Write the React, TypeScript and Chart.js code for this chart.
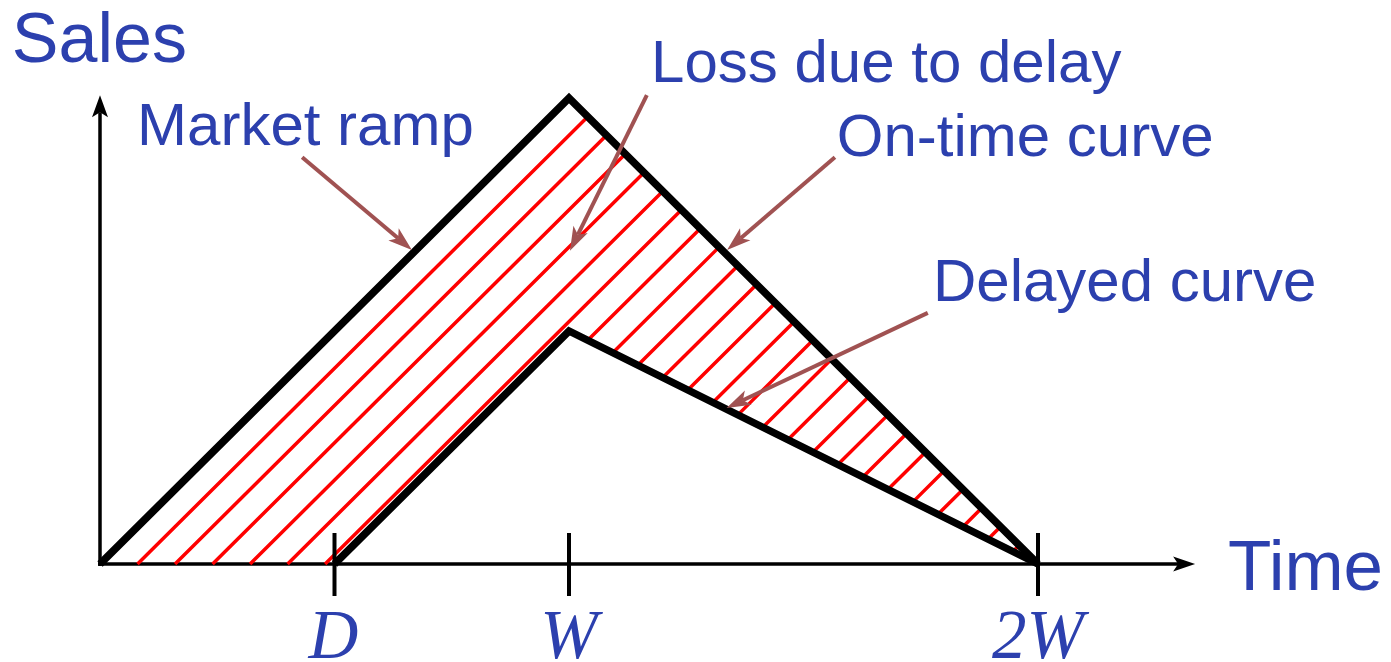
import { useEffect, useRef } from "react";
import { Chart, registerables } from "chart.js";

Chart.register(...registerables);

// ---- Data (time in units of W, sales normalised to the on-time peak) ----
const onTimeX = [0, 1, 2];
const onTimeY = [0, 1, 0];
const delayedX = [0.5, 1, 2];
const delayedY = [0, 0.5, 0];
const tickValues = [0.5, 1, 2];
const tickLabels = ["D", "W", "2W"];
// x-axis intercepts of the red hatch lines (parallel to the market ramp)
const hatchIntercepts = [
  0.08, 0.16, 0.24, 0.32, 0.4, 0.48, 0.56, 0.64, 0.72, 0.8, 0.88, 0.96,
  1.04, 1.12, 1.2, 1.28, 1.36, 1.44, 1.52, 1.6, 1.68, 1.76, 1.84, 1.92,
];
const axisEndX = 2.335;
const axisEndY = 1.006;

const TEXT_BLUE = "#2c40ae";
const ARROW_BROWN = "#a05252";

// annotation labels (data-unit anchor = left end of the baseline)
const labels = [
  { text: "Sales", x: -0.188, y: 1.077, size: 70 },
  { text: "Time", x: 2.405, y: -0.056, size: 71 },
  { text: "Market ramp", x: 0.079, y: 0.899, size: 60 },
  { text: "Loss due to delay", x: 1.175, y: 1.034, size: 60 },
  { text: "On-time curve", x: 1.571, y: 0.876, size: 60 },
  { text: "Delayed curve", x: 1.776, y: 0.564, size: 60 },
];
// pointer arrows: tail -> tip (data units)
const pointers = [
  { x1: 0.431, y1: 0.873, x2: 0.665, y2: 0.674 },
  { x1: 1.166, y1: 1.006, x2: 1.002, y2: 0.672 },
  { x1: 1.567, y1: 0.873, x2: 1.337, y2: 0.674 },
  { x1: 1.765, y1: 0.539, x2: 1.336, y2: 0.335 },
];

function toPoints(xs: number[], ys: number[]) {
  return xs.map((x, i) => ({ x, y: ys[i] }));
}

function intersectLine(c: number, xs: number[], ys: number[]) {
  for (let i = 0; i < xs.length - 1; i++) {
    const x1 = xs[i], y1 = ys[i];
    const dx = xs[i + 1] - x1, dy = ys[i + 1] - y1;
    const den = dy - dx;
    if (Math.abs(den) < 1e-9) continue;
    const t = (x1 - c - y1) / den;
    if (t >= -1e-9 && t <= 1 + 1e-9) return { x: x1 + t * dx, y: y1 + t * dy };
  }
  return null;
}

function hatchPoints() {
  const lowerX = [0, ...delayedX];
  const lowerY = [0, ...delayedY];
  const pts: { x: number; y: number | null }[] = [];
  hatchIntercepts.forEach((c) => {
    const a = intersectLine(c, lowerX, lowerY);
    const b = intersectLine(c, onTimeX, onTimeY);
    if (a && b) {
      pts.push(a, b, { x: b.x, y: null });
    }
  });
  return pts;
}

function arrowHead(
  ctx: CanvasRenderingContext2D,
  x1: number, y1: number, x2: number, y2: number,
  len: number, half: number, notch: number, color: string, width: number
) {
  const d = Math.hypot(x2 - x1, y2 - y1);
  const ux = (x2 - x1) / d, uy = (y2 - y1) / d;
  const px = -uy, py = ux;
  ctx.save();
  ctx.strokeStyle = color;
  ctx.fillStyle = color;
  ctx.lineWidth = width;
  ctx.lineCap = "butt";
  ctx.beginPath();
  ctx.moveTo(x1, y1);
  ctx.lineTo(x2 - ux * (len - notch), y2 - uy * (len - notch));
  ctx.stroke();
  ctx.beginPath();
  ctx.moveTo(x2, y2);
  ctx.lineTo(x2 - ux * len + px * half, y2 - uy * len + py * half);
  ctx.lineTo(x2 - ux * (len - notch), y2 - uy * (len - notch));
  ctx.lineTo(x2 - ux * len - px * half, y2 - uy * len - py * half);
  ctx.closePath();
  ctx.fill();
  ctx.restore();
}

const diagramPlugin = {
  id: "diagram",
  beforeDatasetsDraw(chart: any) {
    const ctx: CanvasRenderingContext2D = chart.ctx;
    const sx = chart.scales.x, sy = chart.scales.y;
    const ox = sx.getPixelForValue(0), oy = sy.getPixelForValue(0);
    // axes
    arrowHead(ctx, ox - 2, oy, sx.getPixelForValue(axisEndX), oy, 22, 7.5, 5, "#000", 3.5);
    arrowHead(ctx, ox, oy + 2, ox, sy.getPixelForValue(axisEndY), 22, 8, 5, "#000", 3.5);
  },
  afterDatasetsDraw(chart: any) {
    const ctx: CanvasRenderingContext2D = chart.ctx;
    const sx = chart.scales.x, sy = chart.scales.y;
    const oy = sy.getPixelForValue(0);
    ctx.save();
    // ticks and tick labels
    ctx.strokeStyle = "#000";
    ctx.lineWidth = 4;
    ctx.fillStyle = TEXT_BLUE;
    ctx.font = "italic 69px 'Liberation Serif', 'Times New Roman', serif";
    ctx.textAlign = "center";
    ctx.textBaseline = "alphabetic";
    tickValues.forEach((v, i) => {
      const px = sx.getPixelForValue(v);
      ctx.beginPath();
      ctx.moveTo(px, oy - 31);
      ctx.lineTo(px, oy + 32);
      ctx.stroke();
      ctx.fillText(tickLabels[i], px - (i === 0 ? 1 : 0), oy + 94);
    });
    // pointer arrows
    pointers.forEach((p) => {
      arrowHead(
        ctx,
        sx.getPixelForValue(p.x1), sy.getPixelForValue(p.y1),
        sx.getPixelForValue(p.x2), sy.getPixelForValue(p.y2),
        24, 8, 6, ARROW_BROWN, 4
      );
    });
    // labels
    ctx.textAlign = "left";
    labels.forEach((l) => {
      ctx.font = `${l.size}px 'Liberation Sans', Arial, Helvetica, sans-serif`;
      ctx.fillStyle = TEXT_BLUE;
      ctx.fillText(l.text, sx.getPixelForValue(l.x), sy.getPixelForValue(l.y));
    });
    ctx.restore();
  },
};

export default function App() {
  const ref = useRef<HTMLCanvasElement | null>(null);
  useEffect(() => {
    document.body.style.margin = "0";
    const canvas = ref.current;
    if (!canvas) return;
    const chart = new Chart(canvas, {
      type: "scatter",
      data: {
        datasets: [
          {
            label: "On-time curve",
            data: toPoints(onTimeX, onTimeY),
            showLine: true,
            borderColor: "#000",
            borderWidth: 7.5,
            borderJoinStyle: "miter",
            borderCapStyle: "butt",
            pointRadius: 0,
            tension: 0,
            clip: false,
          } as any,
          {
            label: "Delayed curve",
            data: toPoints(delayedX, delayedY),
            showLine: true,
            borderColor: "#000",
            borderWidth: 7.5,
            borderJoinStyle: "miter",
            borderCapStyle: "butt",
            pointRadius: 0,
            tension: 0,
            clip: false,
          } as any,
          {
            label: "Loss due to delay",
            data: hatchPoints(),
            showLine: true,
            spanGaps: false,
            borderColor: "#ff0000",
            borderWidth: 3.5,
            borderCapStyle: "butt",
            pointRadius: 0,
            tension: 0,
            clip: false,
          } as any,
        ],
      },
      options: {
        responsive: false,
        maintainAspectRatio: false,
        animation: false,
        devicePixelRatio: 1,
        layout: { padding: { left: 100, right: 353, top: 98, bottom: 98 } },
        scales: {
          x: { type: "linear", min: 0, max: 2, display: false },
          y: { type: "linear", min: 0, max: 1, display: false },
        },
        plugins: {
          legend: { display: false },
          tooltip: { enabled: false },
        },
        events: [],
      },
      plugins: [diagramPlugin],
    });
    return () => chart.destroy();
  }, []);
  return (
    <div style={{ width: 1391, height: 662, background: "#fff" }}>
      <canvas ref={ref} width={1391} height={662} style={{ display: "block" }} />
    </div>
  );
}
